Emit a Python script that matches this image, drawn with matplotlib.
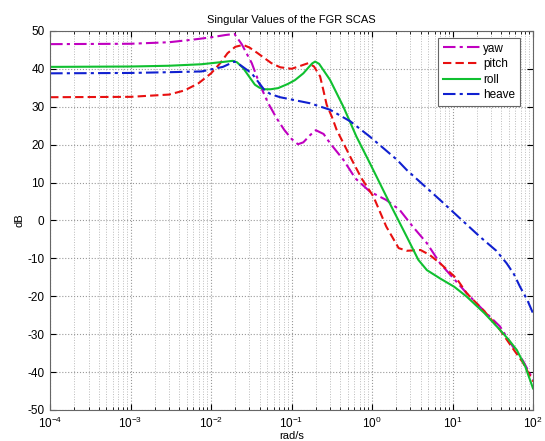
import numpy as np
import matplotlib
matplotlib.use('Agg')
import matplotlib.pyplot as plt
from matplotlib.ticker import NullFormatter

plt.rcParams['font.family'] = ['Liberation Sans', 'DejaVu Sans']
plt.rcParams['mathtext.fontset'] = 'custom'
plt.rcParams['mathtext.rm'] = 'Liberation Sans'
plt.rcParams['mathtext.it'] = 'Liberation Sans'
plt.rcParams['mathtext.bf'] = 'Liberation Sans'
plt.rcParams['axes.unicode_minus'] = False

# yaw singular value (magenta dash-dot)
yaw_w = [1e-4, 1e-3, 3e-3, 6e-3, 1e-2, 1.5e-2, 1.95e-2, 2.4e-2, 3.2e-2, 4.0e-2, 5.1e-2, 6.5e-2,
         8.1e-2, 0.10, 0.12, 0.14, 0.17, 0.20, 0.25, 0.30, 0.44, 0.62, 0.94, 1.5, 2.2, 3.2,
         4.8, 7.0, 10.0, 15.0, 25.0, 39.0, 55.0, 75.0, 100.0]
yaw_db = [46.5, 46.6, 47.0, 47.7, 48.3, 48.9, 49.2, 46.5, 41.5, 36.0, 31.0, 27.0,
          23.9, 21.5, 20.1, 20.6, 22.5, 23.8, 22.8, 20.4, 16.0, 11.1, 7.6, 5.4, 2.8, -1.6,
          -6.0, -11.3, -15.0, -19.2, -24.0, -28.0, -33.0, -37.0, -42.0]

# pitch (red dashed)
pitch_w = [1e-4, 1e-3, 3e-3, 4.7e-3, 7e-3, 1.0e-2, 1.3e-2, 1.6e-2, 2.0e-2, 2.5e-2, 3.0e-2, 3.8e-2,
           5.6e-2, 7.2e-2, 0.10, 0.13, 0.162, 0.19, 0.226, 0.248, 0.273, 0.316, 0.363, 0.44,
           0.56, 0.74, 1.04, 1.5, 2.14, 2.7, 4.0, 5.2, 7.0, 11.2, 15.0, 25.0, 39.0, 55.0,
           75.0, 100.0]
pitch_db = [32.5, 32.6, 33.2, 34.3, 36.2, 38.8, 41.5, 44.1, 45.8, 46.3, 45.6, 44.1,
            41.5, 40.4, 40.0, 40.8, 41.5, 40.6, 38.0, 34.4, 30.5, 27.4, 23.9, 20.4,
            16.0, 11.1, 6.3, -1.6, -7.3, -8.0, -7.8, -9.1, -11.3, -15.3, -19.2, -24.0, -28.9,
            -33.5, -37.5, -42.5]

# roll (green solid)
roll_w = [1e-4, 1e-3, 3e-3, 7.6e-3, 1.4e-2, 1.86e-2, 2.1e-2, 2.5e-2, 3.0e-2, 3.5e-2, 4.0e-2,
          4.6e-2, 5.5e-2, 6.8e-2, 0.09, 0.11, 0.14, 0.16, 0.18, 0.196, 0.22, 0.30, 0.44, 0.64,
          0.94, 1.66, 2.7, 3.76, 4.8, 7.0, 10.5, 15.0, 25.0, 39.0, 50.0, 63.0, 80.0, 100.0]
roll_db = [40.5, 40.6, 40.8, 41.2, 41.8, 42.1, 41.7, 40.2, 37.8, 35.8, 35.0,
           34.6, 34.6, 34.9, 36.0, 37.0, 38.8, 40.2, 41.4, 41.9, 41.3, 37.1, 30.0, 22.1,
           15.1, 4.5, -4.3, -10.4, -13.1, -15.3, -17.5, -20.1, -24.5, -28.9,
           -31.5, -34.2, -38.5, -44.3]

# heave (blue dash-dot)
heave_w = [1e-4, 1e-3, 3e-3, 7.6e-3, 1.4e-2, 1.95e-2, 2.3e-2, 3.2e-2, 4.6e-2, 5.5e-2, 7.2e-2,
           0.17, 0.30, 0.54, 0.94, 2.04, 2.7, 7.0, 21.9, 35.0, 47.0, 58.0, 69.0, 85.0, 100.0]
heave_db = [38.8, 38.9, 39.1, 39.3, 40.5, 41.9, 41.0, 38.8, 34.4, 33.3, 32.5,
            30.9, 29.2, 26.1, 22.1, 16.0, 13.3, 5.4, -4.3, -8.0, -11.3, -14.2, -17.5, -21.0, -24.5]

fig = plt.figure(figsize=(5.45, 4.41), dpi=100)
ax = fig.add_axes([0.092, 0.0703, 0.886, 0.8597])

ax.semilogx(yaw_w, yaw_db, color='#c000c0', linestyle=(0, (6, 2, 1.5, 2)), lw=1.5, label='yaw')
ax.semilogx(pitch_w, pitch_db, color='#e81010', linestyle=(0, (4, 2)), lw=1.5, label='pitch')
ax.semilogx(roll_w, roll_db, color='#10c030', linestyle='-', lw=1.5, label='roll')
ax.semilogx(heave_w, heave_db, color='#1020d0', linestyle=(0, (6, 2, 1.5, 2)), lw=1.5, label='heave')

ax.set_xlim(1e-4, 1e2)
ax.set_ylim(-50, 50)
ax.set_yticks(np.arange(-50, 51, 10))
ax.xaxis.set_minor_formatter(NullFormatter())
ax.grid(True, which='major', linestyle=':', color='#999999', lw=0.8)
ax.grid(True, which='minor', linestyle=':', color='#bbbbbb', lw=0.7)
ax.tick_params(which='both', direction='in', top=True, right=True, labelsize=8.5)
ax.tick_params(which='major', length=4, pad=4)
ax.tick_params(which='minor', length=2)
for s in ax.spines.values():
    s.set_color('#666666')

ax.set_title('Singular Values of the FGR SCAS', fontsize=8)
ax.set_xlabel('rad/s', fontsize=8, labelpad=0)
ax.set_ylabel('dB', fontsize=8, labelpad=2)

leg = ax.legend(loc='upper right', bbox_to_anchor=(0.973, 0.9815), borderaxespad=0,
                fontsize=8.5, fancybox=False, framealpha=1, edgecolor='#666666',
                handlelength=3.1, handletextpad=0.3, labelspacing=0.3, borderpad=0.4)
leg.get_frame().set_linewidth(0.8)

plt.savefig('out.png', dpi=100)
